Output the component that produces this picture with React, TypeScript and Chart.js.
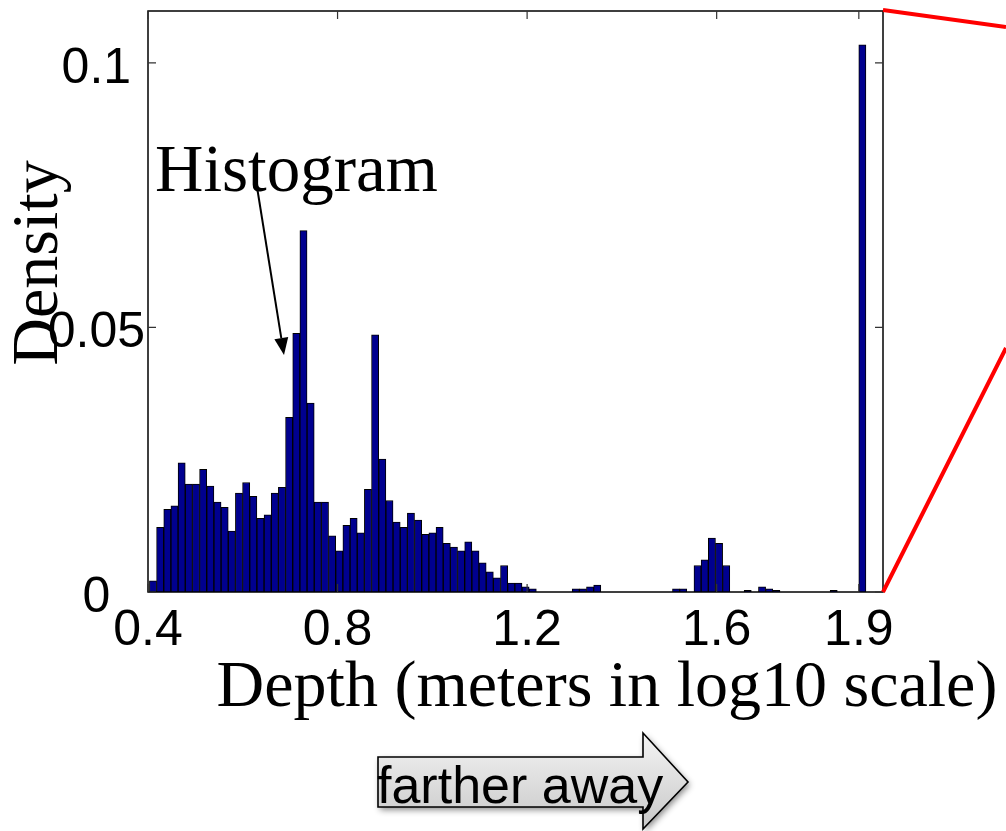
import React, { useEffect, useRef } from "react";
import { Chart, registerables } from "chart.js";

Chart.register(...registerables);

// Histogram bins (depth, log10 meters)
const BIN_START = 0.403;
const BIN_WIDTH = 0.01512;

// Density per bin (100 bins)
const densityNear = [
  0.0021, 0.0122, 0.0156, 0.0163, 0.0244, 0.0204, 0.0204, 0.0232, 0.02, 0.017,
  0.016, 0.0115, 0.0187, 0.0207, 0.0181, 0.0139, 0.0146, 0.0187, 0.0198, 0.033,
  0.0489, 0.0683, 0.0357, 0.017, 0.017, 0.0106, 0.0078, 0.0126, 0.0139, 0.0112,
  0.0194, 0.0486, 0.0251, 0.0173, 0.0132,
];
const densityMid = [
  0.0122, 0.0149, 0.0136, 0.0109, 0.0112, 0.0122, 0.0092, 0.0085, 0.0078, 0.0095,
  0.0078, 0.0055, 0.0038, 0.0027, 0.005, 0.0017, 0.0017, 0.001, 0.0006, 0,
  0, 0, 0, 0, 0.0006, 0.0006, 0.001, 0.0013, 0, 0,
];
const densityFar = [
  0, 0, 0, 0, 0, 0, 0, 0, 0.0006, 0.0006,
  0, 0.005, 0.0061, 0.0102, 0.0092, 0.005, 0, 0, 0.0003, 0,
  0.001, 0.0006, 0.0003, 0, 0, 0, 0, 0, 0, 0,
  0.0003, 0, 0, 0, 0.1034,
];
const densities = [...densityNear, ...densityMid, ...densityFar];

const xTickValues = [0.4, 0.8, 1.2, 1.6, 1.9];
const yTickValues = [0, 0.05, 0.1];

const X_MIN = 0.4;
const X_MAX = 1.951;
const Y_MAX = 0.1098;

const xTitle = "Depth (meters in log10 scale)";
const yTitle = "Density";
const annotationText = "Histogram";
const arrowText = "farther away";

const SERIF = '"Liberation Serif", "Times New Roman", serif';
const SANS = '"Liberation Sans", Arial, sans-serif';

const decorPlugin = {
  id: "decor",
  afterDraw(chart: any) {
    const { ctx, chartArea: a, scales } = chart;
    ctx.save();

    // axes box
    ctx.strokeStyle = "#000";
    ctx.lineWidth = 1.5;
    ctx.strokeRect(a.left, a.top, a.right - a.left, a.bottom - a.top);

    // inward tick marks
    const tl = 8;
    ctx.lineWidth = 1.2;
    ctx.strokeStyle = "#333";
    ctx.beginPath();
    scales.x.ticks.forEach((t: any) => {
      const px = scales.x.getPixelForValue(t.value);
      ctx.moveTo(px, a.top);
      ctx.lineTo(px, a.top + tl);
      ctx.moveTo(px, a.bottom);
      ctx.lineTo(px, a.bottom - tl);
    });
    scales.y.ticks.forEach((t: any) => {
      const py = scales.y.getPixelForValue(t.value);
      ctx.moveTo(a.left, py);
      ctx.lineTo(a.left + tl, py);
      ctx.moveTo(a.right, py);
      ctx.lineTo(a.right - tl, py);
    });
    ctx.stroke();

    // titles
    ctx.fillStyle = "#000";
    ctx.font = `66px ${SERIF}`;
    ctx.textAlign = "center";
    ctx.textBaseline = "alphabetic";
    ctx.fillText(xTitle, 607, 706);

    ctx.save();
    ctx.translate(57, 263);
    ctx.rotate(-Math.PI / 2);
    ctx.fillText(yTitle, 0, 0);
    ctx.restore();

    // annotation
    ctx.textAlign = "left";
    ctx.font = `67px ${SERIF}`;
    ctx.fillText(annotationText, 155, 191);

    const x0 = 257, y0 = 187, x1 = 284, y1 = 355;
    const ang = Math.atan2(y1 - y0, x1 - x0);
    const hl = 17, hw = 7;
    const bx = x1 - hl * Math.cos(ang);
    const by = y1 - hl * Math.sin(ang);
    ctx.strokeStyle = "#000";
    ctx.lineWidth = 2;
    ctx.beginPath();
    ctx.moveTo(x0, y0);
    ctx.lineTo(bx, by);
    ctx.stroke();
    ctx.beginPath();
    ctx.moveTo(x1, y1);
    ctx.lineTo(bx + hw * Math.sin(ang), by - hw * Math.cos(ang));
    ctx.lineTo(bx - hw * Math.sin(ang), by + hw * Math.cos(ang));
    ctx.closePath();
    ctx.fillStyle = "#000";
    ctx.fill();

    // red zoom lines
    ctx.strokeStyle = "#ff0000";
    ctx.lineWidth = 4;
    ctx.beginPath();
    ctx.moveTo(a.right, a.top - 1);
    ctx.lineTo(1006, 27);
    ctx.moveTo(a.right, a.bottom);
    ctx.lineTo(1006, 348);
    ctx.stroke();

    // "farther away" arrow
    ctx.save();
    ctx.beginPath();
    ctx.moveTo(378, 757);
    ctx.lineTo(643, 757);
    ctx.lineTo(643, 733);
    ctx.lineTo(688, 782);
    ctx.lineTo(643, 829);
    ctx.lineTo(643, 807);
    ctx.lineTo(378, 807);
    ctx.closePath();
    const g = ctx.createLinearGradient(0, 733, 0, 829);
    g.addColorStop(0, "#f4f4f4");
    g.addColorStop(1, "#c8c8c8");
    ctx.shadowColor = "rgba(0,0,0,0.45)";
    ctx.shadowBlur = 6;
    ctx.shadowOffsetX = 2;
    ctx.shadowOffsetY = 3;
    ctx.fillStyle = g;
    ctx.fill();
    ctx.shadowColor = "transparent";
    ctx.lineWidth = 1.6;
    ctx.strokeStyle = "#000";
    ctx.stroke();
    ctx.restore();

    ctx.fillStyle = "#000";
    ctx.font = `52px ${SANS}`;
    ctx.textAlign = "left";
    ctx.textBaseline = "alphabetic";
    ctx.fillText(arrowText, 377, 803);

    ctx.restore();
  },
};

export default function App() {
  const canvasRef = useRef<HTMLCanvasElement | null>(null);

  useEffect(() => {
    if (!canvasRef.current) return;
    const data = densities.map((v, i) => ({ x: BIN_START + BIN_WIDTH * (i + 0.5), y: v }));
    const chart = new Chart(canvasRef.current, {
      type: "bar",
      data: {
        datasets: [
          {
            data,
            backgroundColor: "rgb(0,0,143)",
            borderColor: "#000",
            borderWidth: 1,
            barPercentage: 1,
            categoryPercentage: 1,
          } as any,
        ],
      },
      options: {
        responsive: false,
        animation: false,
        layout: { padding: { left: 0, right: 123, top: 11, bottom: 0 } },
        plugins: { legend: { display: false }, tooltip: { enabled: false }, title: { display: false } },
        scales: {
          x: {
            type: "linear",
            min: X_MIN,
            max: X_MAX,
            offset: false,
            grid: { display: false, drawTicks: false, offset: false },
            border: { display: false },
            afterBuildTicks: (scale: any) => {
              scale.ticks = xTickValues.map((v) => ({ value: v }));
            },
            afterFit: (scale: any) => {
              scale.height = 239;
              scale.paddingLeft = 0;
              scale.paddingRight = 0;
            },
            ticks: {
              autoSkip: false,
              maxRotation: 0,
              minRotation: 0,
              padding: 14,
              color: "#000",
              font: { family: SANS, size: 50, lineHeight: 1 },
              callback: (v: any) => String(v),
            },
          },
          y: {
            type: "linear",
            min: 0,
            max: Y_MAX,
            grid: { display: false, drawTicks: false },
            border: { display: false },
            afterBuildTicks: (scale: any) => {
              scale.ticks = yTickValues.map((v) => ({ value: v }));
            },
            afterFit: (scale: any) => {
              scale.width = 148;
              scale.paddingTop = 0;
              scale.paddingBottom = 0;
            },
            ticks: {
              crossAlign: "center",
              padding: 3,
              labelOffset: 6,
              color: "#000",
              font: { family: SANS, size: 50, lineHeight: 1 },
              callback: (v: any) => String(v),
            },
          },
        },
      },
      plugins: [decorPlugin],
    });
    return () => chart.destroy();
  }, []);

  return (
    <div style={{ position: "fixed", left: 0, top: 0, width: 1006, height: 831, background: "#fff" }}>
      <canvas ref={canvasRef} width={1006} height={831} style={{ display: "block" }} />
    </div>
  );
}
